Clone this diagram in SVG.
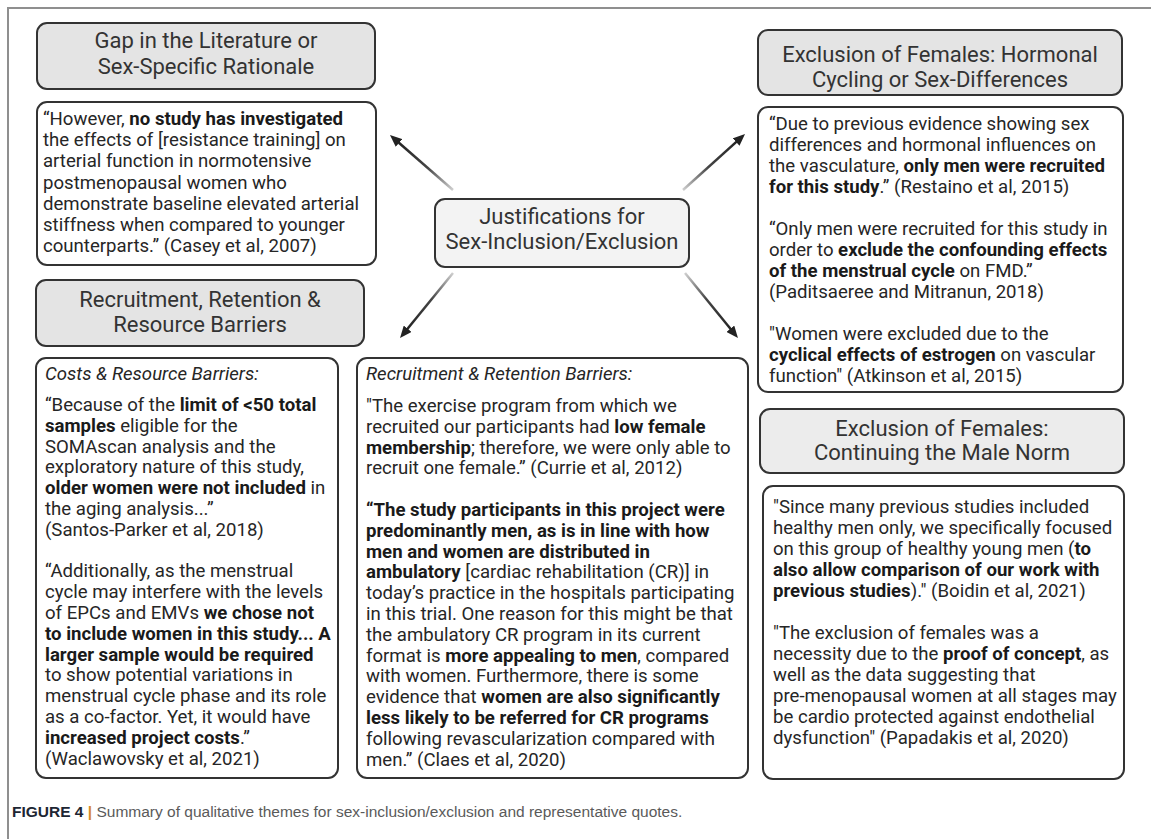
<svg xmlns="http://www.w3.org/2000/svg" width="1151" height="839" viewBox="0 0 1151 839">
<style>
.frame{stroke:#8f8f8f;stroke-width:2;fill:none}
.title{fill:#e4e4e4;stroke:#333;stroke-width:2}
.title2{fill:#ececec;stroke:#333;stroke-width:2}
.center{fill:#f3f3f3;stroke:#333;stroke-width:2}
.quote{fill:#fff;stroke:#333;stroke-width:2}
.tt{font-family:Roboto,"Liberation Sans",sans-serif;font-size:22px;fill:#333;text-anchor:middle}
.q{font-family:Roboto,"Liberation Sans",sans-serif;font-size:18.6px;fill:#262626}
.b{font-weight:bold;fill:#1a1a1a}
.i{font-style:italic}
.arr{stroke-width:2.5;fill:none}
.cap{font-family:"Liberation Sans",Arial,sans-serif;font-size:15.5px;fill:#5a5a5a}
</style>
<defs>
<marker id="ah" viewBox="0 0 12 10" refX="4" refY="5" markerWidth="12" markerHeight="10" markerUnits="userSpaceOnUse" orient="auto">
<path d="M0,0 L12,5 L0,10 z" fill="#222"/>
</marker>
<linearGradient id="g1" gradientUnits="userSpaceOnUse" x1="453" y1="190" x2="396" y2="140.3"><stop offset="0" stop-color="#cfcfcf"/><stop offset="0.45" stop-color="#444"/><stop offset="1" stop-color="#222"/></linearGradient>
<linearGradient id="g2" gradientUnits="userSpaceOnUse" x1="683" y1="190" x2="739.1" y2="139.4"><stop offset="0" stop-color="#cfcfcf"/><stop offset="0.45" stop-color="#444"/><stop offset="1" stop-color="#222"/></linearGradient>
<linearGradient id="g3" gradientUnits="userSpaceOnUse" x1="453" y1="273" x2="405.1" y2="331.8"><stop offset="0" stop-color="#cfcfcf"/><stop offset="0.45" stop-color="#444"/><stop offset="1" stop-color="#222"/></linearGradient>
<linearGradient id="g4" gradientUnits="userSpaceOnUse" x1="685" y1="273" x2="732.9" y2="331.8"><stop offset="0" stop-color="#cfcfcf"/><stop offset="0.45" stop-color="#444"/><stop offset="1" stop-color="#222"/></linearGradient>
</defs>
<rect width="1151" height="839" fill="#fff"/>
<path class="frame" d="M1151,8 H8 V839"/>

<g id="connectors">
<line class="arr" x1="453" y1="190" x2="396" y2="140.3" stroke="url(#g1)" marker-end="url(#ah)"/>
<line class="arr" x1="683" y1="190" x2="739.1" y2="139.4" stroke="url(#g2)" marker-end="url(#ah)"/>
<line class="arr" x1="453" y1="273" x2="405.1" y2="331.8" stroke="url(#g3)" marker-end="url(#ah)"/>
<line class="arr" x1="685" y1="273" x2="732.9" y2="331.8" stroke="url(#g4)" marker-end="url(#ah)"/>
</g>

<g id="center">
<rect class="center" x="435" y="199" width="254" height="68" rx="10"/>
<text class="tt" x="562" y="224">Justifications for</text>
<text class="tt" x="562" y="249">Sex-Inclusion/Exclusion</text>
</g>

<g id="gap-title">
<rect class="title" x="37" y="23" width="338" height="66" rx="10"/>
<text class="tt" x="206" y="48">Gap in the Literature or</text>
<text class="tt" x="206" y="74">Sex-Specific Rationale</text>
</g>

<g id="gap-quote">
<rect class="quote" x="37" y="102" width="339" height="163" rx="10"/>
<text class="q" x="43" y="125">“However, <tspan class="b">no study has investigated</tspan></text>
<text class="q" x="43" y="146.2">the effects of [resistance training] on</text>
<text class="q" x="43" y="167.4">arterial function in normotensive</text>
<text class="q" x="43" y="188.6">postmenopausal women who</text>
<text class="q" x="43" y="209.8">demonstrate baseline elevated arterial</text>
<text class="q" x="43" y="231">stiffness when compared to younger</text>
<text class="q" x="43" y="252.2">counterparts.” (Casey et al, 2007)</text>
</g>

<g id="recruit-title">
<rect class="title" x="36" y="280" width="328" height="66" rx="10"/>
<text class="tt" x="200" y="307">Recruitment, Retention &amp;</text>
<text class="tt" x="200" y="332">Resource Barriers</text>
</g>

<g id="costs-quote">
<rect class="quote" x="36" y="358" width="302" height="420" rx="10"/>
<text class="q i" x="45" y="380">Costs &amp; Resource Barriers:</text>
<text class="q" x="45" y="411">“Because of the <tspan class="b">limit of &lt;50 total</tspan></text>
<text class="q" x="45" y="431.8"><tspan class="b">samples</tspan> eligible for the</text>
<text class="q" x="45" y="452.6">SOMAscan analysis and the</text>
<text class="q" x="45" y="473.4">exploratory nature of this study,</text>
<text class="q" x="45" y="494.2"><tspan class="b">older women were not included</tspan> in</text>
<text class="q" x="45" y="515">the aging analysis...”</text>
<text class="q" x="45" y="535.8">(Santos-Parker et al, 2018)</text>
<text class="q" x="45" y="577.4">“Additionally, as the menstrual</text>
<text class="q" x="45" y="598.2">cycle may interfere with the levels</text>
<text class="q" x="45" y="619">of EPCs and EMVs <tspan class="b">we chose not</tspan></text>
<text class="q" x="45" y="639.8"><tspan class="b">to include women in this study... A</tspan></text>
<text class="q" x="45" y="660.6"><tspan class="b">larger sample would be required</tspan></text>
<text class="q" x="45" y="681.4">to show potential variations in</text>
<text class="q" x="45" y="702.2">menstrual cycle phase and its role</text>
<text class="q" x="45" y="723">as a co-factor. Yet, it would have</text>
<text class="q" x="45" y="743.8"><tspan class="b">increased project costs</tspan>.”</text>
<text class="q" x="45" y="764.6">(Waclawovsky et al, 2021)</text>
</g>

<g id="retention-quote">
<rect class="quote" x="357" y="358" width="391" height="420" rx="10"/>
<text class="q i" x="366" y="380">Recruitment &amp; Retention Barriers:</text>
<text class="q" x="366" y="412">"The exercise program from which we</text>
<text class="q" x="366" y="432.8">recruited our participants had <tspan class="b">low female</tspan></text>
<text class="q" x="366" y="453.6"><tspan class="b">membership</tspan>; therefore, we were only able to</text>
<text class="q" x="366" y="474.4">recruit one female.” (Currie et al, 2012)</text>
<text class="q b" x="366" y="516">“The study participants in this project were</text>
<text class="q b" x="366" y="536.8">predominantly men, as is in line with how</text>
<text class="q b" x="366" y="557.6">men and women are distributed in</text>
<text class="q" x="366" y="578.4"><tspan class="b">ambulatory</tspan> [cardiac rehabilitation (CR)] in</text>
<text class="q" x="366" y="599.2">today’s practice in the hospitals participating</text>
<text class="q" x="366" y="620">in this trial. One reason for this might be that</text>
<text class="q" x="366" y="640.8">the ambulatory CR program in its current</text>
<text class="q" x="366" y="661.6">format is <tspan class="b">more appealing to men</tspan>, compared</text>
<text class="q" x="366" y="682.4">with women. Furthermore, there is some</text>
<text class="q" x="366" y="703.2">evidence that <tspan class="b">women are also significantly</tspan></text>
<text class="q" x="366" y="724"><tspan class="b">less likely to be referred for CR programs</tspan></text>
<text class="q" x="366" y="744.8">following revascularization compared with</text>
<text class="q" x="366" y="765.6">men.” (Claes et al, 2020)</text>
</g>

<g id="hormonal-title">
<rect class="title" x="758" y="30" width="364" height="65" rx="10"/>
<text class="tt" x="940" y="62">Exclusion of Females: Hormonal</text>
<text class="tt" x="940" y="87">Cycling or Sex-Differences</text>
</g>

<g id="hormonal-quote">
<rect class="quote" x="758" y="107" width="365" height="285" rx="10"/>
<text class="q" x="769" y="130">“Due to previous evidence showing sex</text>
<text class="q" x="769" y="151">differences and hormonal influences on</text>
<text class="q" x="769" y="172">the vasculature, <tspan class="b">only men were recruited</tspan></text>
<text class="q" x="769" y="193"><tspan class="b">for this study</tspan>.” (Restaino et al, 2015)</text>
<text class="q" x="769" y="235">“Only men were recruited for this study in</text>
<text class="q" x="769" y="256">order to <tspan class="b">exclude the confounding effects</tspan></text>
<text class="q" x="769" y="277"><tspan class="b">of the menstrual cycle</tspan> on FMD.”</text>
<text class="q" x="769" y="298">(Paditsaeree and Mitranun, 2018)</text>
<text class="q" x="769" y="340">"Women were excluded due to the</text>
<text class="q" x="769" y="361"><tspan class="b">cyclical effects of estrogen</tspan> on vascular</text>
<text class="q" x="769" y="382">function" (Atkinson et al, 2015)</text>
</g>

<g id="norm-title">
<rect class="title2" x="760" y="409" width="364" height="64" rx="10"/>
<text class="tt" x="942" y="436">Exclusion of Females:</text>
<text class="tt" x="942" y="460">Continuing the Male Norm</text>
</g>

<g id="norm-quote">
<rect class="quote" x="763" y="486" width="361" height="293" rx="10"/>
<text class="q" x="773" y="513">"Since many previous studies included</text>
<text class="q" x="773" y="534">healthy men only, we specifically focused</text>
<text class="q" x="773" y="555">on this group of healthy young men (<tspan class="b">to</tspan></text>
<text class="q" x="773" y="576"><tspan class="b">also allow comparison of our work with</tspan></text>
<text class="q" x="773" y="597"><tspan class="b">previous studies</tspan>)." (Boidin et al, 2021)</text>
<text class="q" x="773" y="639">"The exclusion of females was a</text>
<text class="q" x="773" y="660">necessity due to the <tspan class="b">proof of concept</tspan>, as</text>
<text class="q" x="773" y="681">well as the data suggesting that</text>
<text class="q" x="773" y="702">pre-menopausal women at all stages may</text>
<text class="q" x="773" y="723">be cardio protected against endothelial</text>
<text class="q" x="773" y="744">dysfunction" (Papadakis et al, 2020)</text>
</g>

<text class="cap" x="12" y="817"><tspan font-weight="bold" fill="#1d2633">FIGURE 4</tspan> <tspan font-weight="bold" fill="#d68a2a">|</tspan> Summary of qualitative themes for sex-inclusion/exclusion and representative quotes.</text>
</svg>
